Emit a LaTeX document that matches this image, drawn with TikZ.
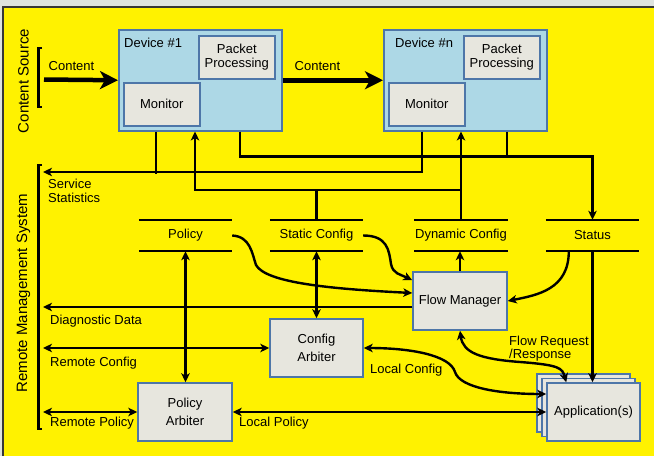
\documentclass[tikz,border=0pt]{standalone}
\usepackage{fontspec}
\setmainfont{Liberation Sans}
\usetikzlibrary{arrows.meta,calc}
\definecolor{bgyellow}{RGB}{255,242,0}
\definecolor{topgray}{RGB}{222,227,223}
\definecolor{framegray}{RGB}{55,55,55}
\definecolor{devblue}{RGB}{173,216,230}
\definecolor{boxgray}{RGB}{231,230,222}
\definecolor{edgeblue}{RGB}{78,118,168}
\tikzset{
  >={Stealth[length=9pt,width=8.5pt,inset=2.5pt]},
  conn/.style={line width=2.4pt, draw=black},
  bigarrow/.style={line width=4.5pt, -{Stealth[length=18pt,width=18pt,inset=5pt]}},
  dev/.style={draw=edgeblue, fill=devblue, line width=1.5pt, inner sep=0pt,
              minimum width=163pt, minimum height=101pt, anchor=north west},
  gbox/.style={draw=edgeblue, fill=boxgray, line width=1.5pt, align=center, inner sep=0pt},
  inbox/.style={gbox, minimum width=76pt, minimum height=43pt, anchor=north west},
  bigbox/.style={gbox, minimum width=94pt, minimum height=58pt},
  store/.style={minimum width=93pt, minimum height=31pt, inner sep=0pt},
  bar/.style={line width=2.4pt},
  bracket/.style={line width=2.2pt},
  lbl/.style={inner sep=0pt, anchor=west},
  side/.style={rotate=90, inner sep=0pt, font=\fontsize{15}{17}\selectfont},
  twoline/.style={font=\fontsize{13}{18.5}\selectfont}
}
\begin{document}
\begin{tikzpicture}[x=1pt,y=-1pt,font=\fontsize{13}{14}\selectfont]
\useasboundingbox (0,0) rectangle (654,456);
% background and frame
\fill[topgray] (0,0) rectangle (654,456);
\fill[bgyellow] (4,8) rectangle (654,456);
\draw[framegray, line width=2pt] (3,456) -- (3,7) -- (654,7);

% side labels and brackets
\node[side] (cs) at (23.5,81) {Content Source};
\node[side] (rms) at (23.5,293) {Remote Management System};
\draw[bracket] (42,48) -- (38.5,48) -- (38.5,107) -- (42,107);
\draw[bracket] (42,165) -- (38.5,165) -- (38.5,429) -- (42,429);

% devices
\node[dev] (d1) at (118,29) {};
\node[inner sep=0pt, anchor=west] (d1l) at (124,43) {Device \#1};
\node[inbox] (pp1) at (198,35) {Packet\\Processing};
\node[inbox] (m1) at (123,82) {Monitor};

\node[dev] (dn) at (383,29) {};
\node[inner sep=0pt, anchor=west] (dnl) at (395,43) {Device \#n};
\node[inbox] (ppn) at (463,35) {Packet\\Processing};
\node[inbox] (mn) at (388,82) {Monitor};

% content arrows
\coordinate (cin) at (44,79.5);
\draw[bigarrow] (cin) -- (d1.west);
\draw[bigarrow] (d1.east) -- (dn.west);
\node[inner sep=0pt] (c1) at (71.5,66) {Content};
\node[inner sep=0pt] (c2) at (317.5,66) {Content};

% data stores
\node[store] (pol) at (185.5,235.5) {Policy};
\node[store] (sc) at (316.5,235.5) {Static Config};
\node[store] (dc) at (461,235.5) {Dynamic Config};
\node[store] (st) at (592.5,235.5) {Status};
\foreach \s in {pol,sc,dc,st}{
  \draw[bar] (\s.north west) -- (\s.north east) (\s.south west) -- (\s.south east);
}

% boxes
\node[bigbox] (fm) at (460,301) {Flow Manager};
\node[bigbox, twoline, minimum width=93pt] (ca) at (316.5,348) {Config\\Arbiter};
\node[bigbox, twoline] (pa) at (185,412) {Policy\\Arbiter};
\node[bigbox, minimum width=93pt] (app3) at (583.5,403) {};
\node[bigbox, minimum width=93pt] (app2) at (588.5,407.5) {};
\node[bigbox, minimum width=93pt] (app) at (593.5,412) {Application(s)};

% service statistics
\coordinate (ssend) at (43,172);
\draw[conn,->] ($(mn.south west)+(34,5)$) |- (ssend);
\draw[conn] ($(m1.south west)+(33,5)$) -- ++(0,42);
\node[inner sep=0pt, anchor=north west, align=left] (ssl) at (48,179) {Service\\Statistics};

% status bus
\draw[conn,->] ($(d1.south west)+(122,0)$) -- ++(0,25) -| (st.north);
\draw[conn] ($(dn.south west)+(124,0)$) -- ++(0,25);

% config bus
\coordinate (cfgbus) at (0,190);
\draw[conn,->] (sc.north) -- (sc.north |- cfgbus) -| ($(d1.south west)+(77,0)$);
\draw[conn] (sc.north |- cfgbus) -- (dc.north |- cfgbus);
\draw[conn,->] (dc.north) -- (dc.north |- dn.south);

% store to boxes
\draw[conn,<->] (pol.south) -- (pol.south |- pa.north);
\draw[conn,<->] (sc.south) -- (ca.north);
\draw[conn,->] (fm.north) -- (fm.north |- dc.south);
\draw[conn,->] (st.south) -- (st.south |- app.north);
\draw[conn,->] ($(st.south west)+(23,0)$) .. controls +(0,38) and +(30,-6) .. (fm.east);
\draw[conn,->] (sc.east) .. controls +(24,0) and +(-2,-14) .. (391,264)
   .. controls +(2,10) and +(-12,-6) .. ($(fm.north west)+(0,9)$);
\draw[conn,->] (pol.east) .. controls +(18,1) and +(-4,-12) .. (256,265)
   .. controls +(10,18) and +(-80,-4) .. ($(fm.west)+(0,-8)$);

% left side flows
\coordinate (ddend) at (43,307);
\coordinate (rcend) at (43,348);
\coordinate (rpend) at (43,412);
\draw[conn,->] ($(fm.west)+(0,6)$) -- (ddend);
\draw[conn,<->] (rcend) -- (ca.west);
\draw[conn,<->] (rpend) -- (pa.west);
\draw[conn,<->] (pa.east) -- (app.west);
\draw[conn,<->] (ca.east) .. controls (410,348) and (450,355) .. (455,372)
   .. controls (460,388) and (500,394) .. ($(app.west)+(0,-18)$);
\draw[conn,<->] (fm.south) .. controls +(3,22) and +(-40,-3) .. (520,362)
   .. controls +(40,3) and +(-4,-14) .. ($(app.north west)+(20,0)$);

% labels
\node[lbl] (ddl) at (50,321) {Diagnostic Data};
\node[lbl] (rcl) at (50,363) {Remote Config};
\node[lbl] (rpl) at (50,423) {Remote Policy};
\node[lbl] (lpl) at (239,423) {Local Policy};
\node[lbl] (lcl) at (370,370) {Local Config};
\node[inner sep=0pt, anchor=north west, align=left, font=\fontsize{13}{12.5}\selectfont] (frl) at (509,336) {Flow Request\\/Response};
\end{tikzpicture}
\end{document}
